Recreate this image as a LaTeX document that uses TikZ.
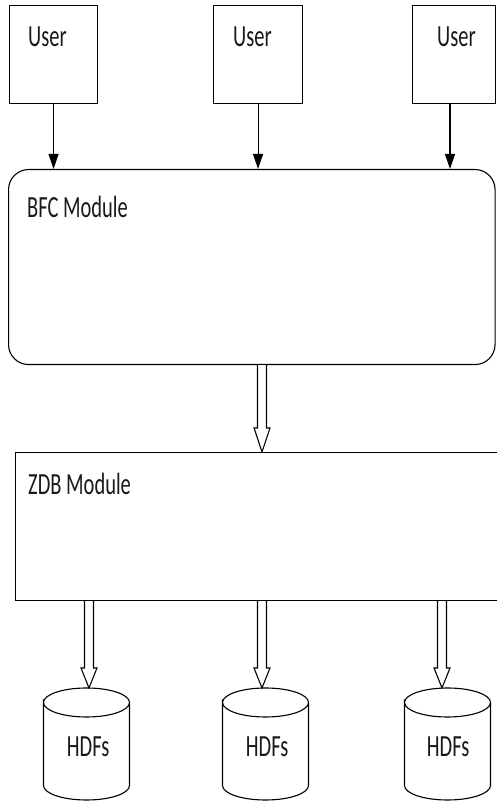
\documentclass[tikz,border=0pt]{standalone}
\usepackage{fontspec}
\setmainfont{Carlito}
\usetikzlibrary{calc,arrows.meta}

% tall, narrow label text
\newcommand\tall[1]{\scalebox{1}[1.5]{#1}}

% hollow block arrow: from point, to point, head length
\newcommand\fatarrow[3]{%
  \draw[line, fill=white] let \p1=(#1), \p2=(#2) in
    (\x1-4.5pt,\y1) -- (\x1-4.5pt,\y2+#3) -- (\x1-8pt,\y2+#3) -- (\x1,\y2)
    -- (\x1+8pt,\y2+#3) -- (\x1+4.5pt,\y2+#3) -- (\x1+4.5pt,\y1);}

% storage drum drawn inside the frame of a named node
\newcommand\drum[1]{%
  \draw[line, fill=white] (#1.north west) ++(0,-14.5)
    arc[start angle=180,end angle=0,x radius=43pt,y radius=14.5pt]
    arc[start angle=0,end angle=-180,x radius=43pt,y radius=14.5pt]
    -- ++(0,-83)
    arc[start angle=180,end angle=360,x radius=43pt,y radius=14.5pt]
    -- ++(0,83);}

\begin{document}
\begin{tikzpicture}[x=1pt,y=1pt,
  line/.style={draw=black, line width=1.1pt},
  userbox/.style={line, rectangle, inner sep=0pt, anchor=north west},
  frame/.style={inner sep=0pt, anchor=north west},
  lbl/.style={inner sep=0pt, anchor=base west, text=black!90,
              font=\fontsize{20.5}{24}\selectfont},
  thin arrow/.style={line, -{Triangle[width=10pt,length=15pt]}}]

\useasboundingbox (0,0) rectangle (496,802);

% users
\node[userbox, minimum width=88pt, minimum height=98pt] (u1) at (9,797) {};
\node[userbox, minimum width=89pt, minimum height=98pt] (u2) at (213,797) {};
\node[userbox, minimum width=83pt, minimum height=98pt] (u3) at (412,797) {};
\node[lbl] (t1) at (28,755) {\tall{User}};
\node[lbl] (t2) at (233,755) {\tall{User}};
\node[lbl] (t3) at (437,755) {\tall{User}};

% modules
\node[line, frame, rounded corners=20pt, minimum width=486.5pt, minimum height=195pt] (bfc) at (8,633) {};
\node[lbl] (tb) at (27,584) {\tall{BFC Module}};
\node[line, frame, minimum width=500pt, minimum height=148pt] (zdb) at (15,350) {};
\node[lbl] (tz) at (28,307) {\tall{ZDB Module}};

% user requests
\draw[thin arrow] (u1.south) -- (u1.south |- bfc.north);
\draw[thin arrow] (u2.south) -- (u2.south |- bfc.north);
\draw[thin arrow] (450,0 |- u3.south) -- (450,0 |- bfc.north);

% stores
\node[frame, minimum width=86pt, minimum height=112pt] (d1) at (43.5,114) {};
\node[frame, minimum width=86pt, minimum height=112pt] (d2) at (222.5,114) {};
\node[frame, minimum width=86pt, minimum height=112pt] (d3) at (404.5,114) {};
\drum{d1}\drum{d2}\drum{d3}
\node[lbl, anchor=base] (h1) at ($(d1.south)+(1.5,44)$) {\tall{HDFs}};
\node[lbl, anchor=base] (h2) at ($(d2.south)+(1.5,44)$) {\tall{HDFs}};
\node[lbl, anchor=base] (h3) at ($(d3.south)+(0.5,44)$) {\tall{HDFs}};

% data flow
\fatarrow{262,0 |- bfc.south}{262,0 |- zdb.north}{24pt}
\fatarrow{89,0 |- zdb.south}{89,0 |- d1.north}{20pt}
\fatarrow{262,0 |- zdb.south}{262,0 |- d2.north}{20pt}
\fatarrow{442,0 |- zdb.south}{442,0 |- d3.north}{20pt}
\end{tikzpicture}
\end{document}
